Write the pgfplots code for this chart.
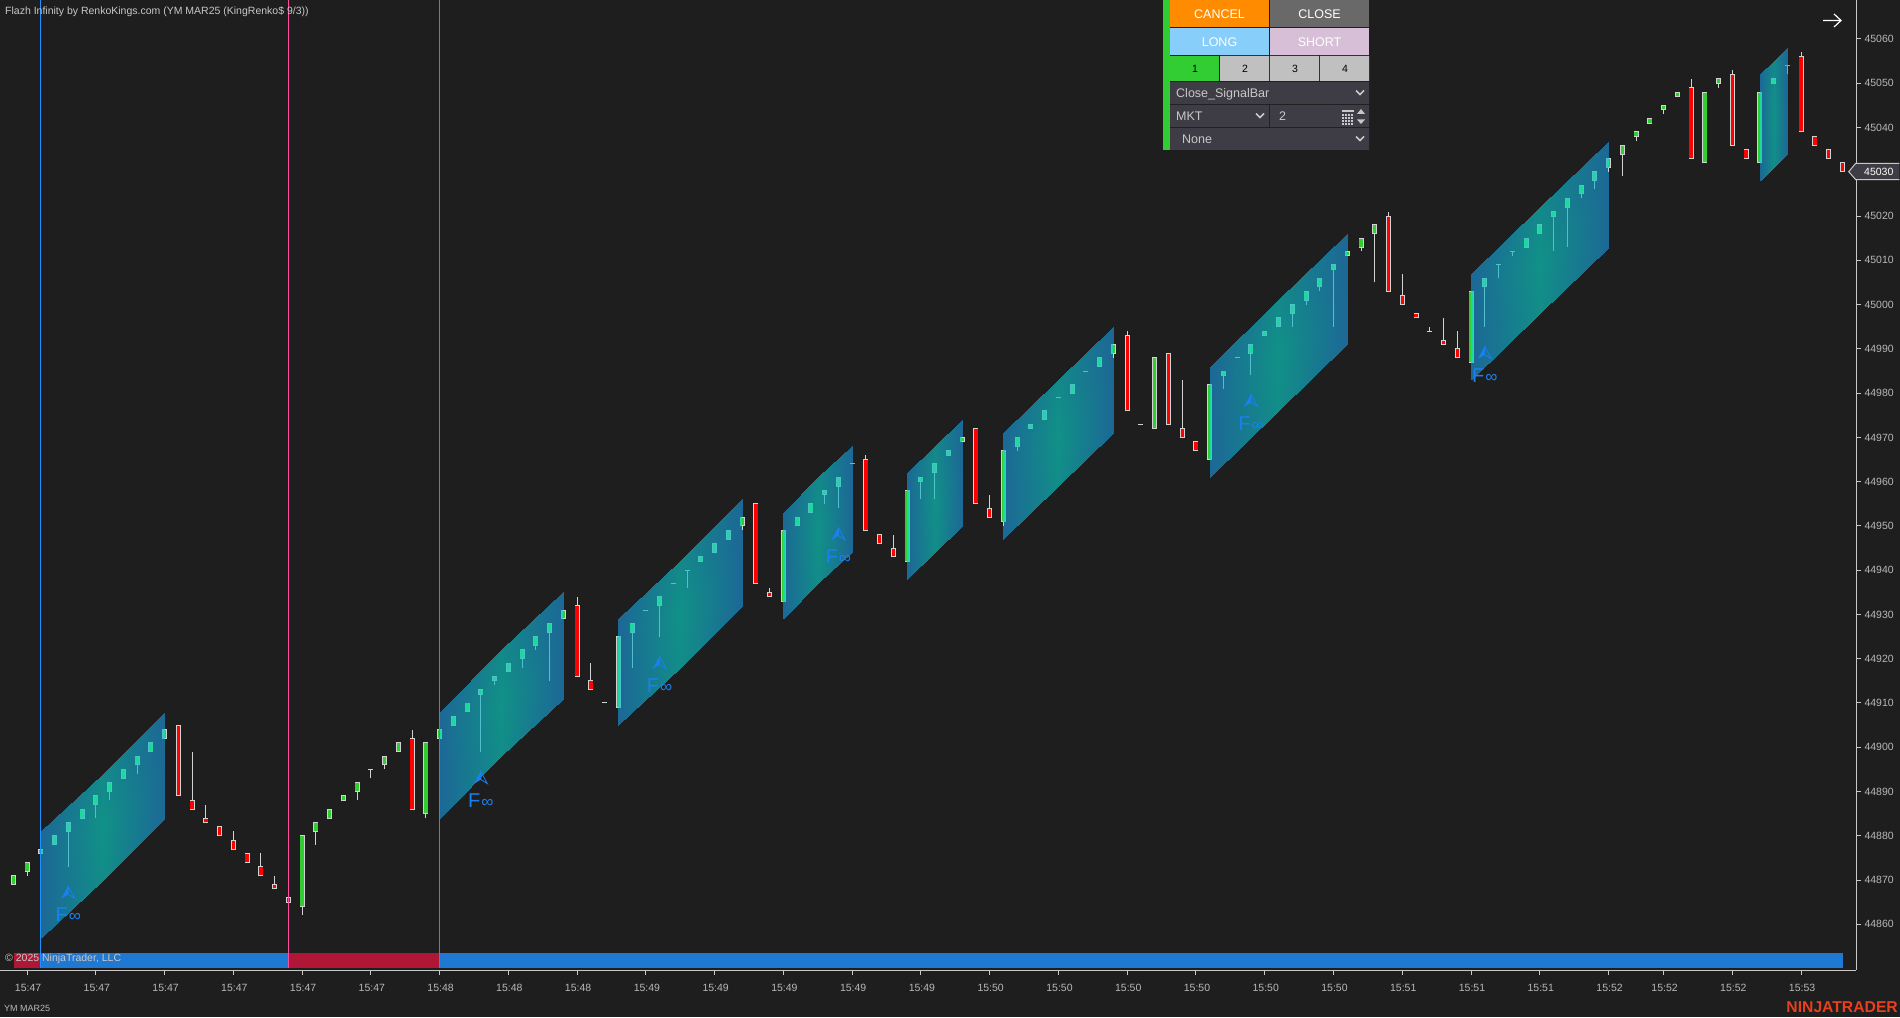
\documentclass[border=0pt]{standalone}
\usepackage{fontspec}
\setmainfont{Liberation Sans}
\usepackage{pgfplots}
\usepackage{pgfplotstable}
\pgfplotsset{compat=1.18}
\definecolor{bg}{HTML}{1E1E1E}
\definecolor{tl}{HTML}{B8B8B8}
\definecolor{ax}{HTML}{C8C8C8}
\definecolor{gr}{HTML}{32CD32}
\definecolor{rd}{HTML}{FF0000}
\definecolor{bd}{HTML}{D2D2D2}
\definecolor{tb}{HTML}{1FD8A0}
\definecolor{tbd}{HTML}{4CC4C8}
\definecolor{twk}{HTML}{52C0CC}
\definecolor{stripb}{HTML}{1F78D2}
\definecolor{stripr}{HTML}{B01636}
\definecolor{vb}{HTML}{1E90FF}
\definecolor{vp}{HTML}{FF4DA0}
\definecolor{fa}{HTML}{1A80F0}
\definecolor{pn}{HTML}{3E3C44}
\definecolor{uit}{HTML}{C8C8C8}

\pgfplotstableread{
i lo hi wl wh
0 44869 44871 44869 44871
1 44872 44874 44871 44874
2 44876 44877 44876 44877
11 44902 44904 44902 44904
21 44864 44880 44862 44880
22 44881 44883 44878 44883
23 44884 44886 44884 44886
24 44888 44889 44888 44889
25 44890 44892 44888 44892
26 44895 44895 44893 44895
27 44896 44898 44895 44898
28 44899 44901 44899 44901
30 44885 44901 44884 44901
31 44902 44904 44902 44904
40 44929 44931 44929 44931
43 44910 44910 44910 44910
44 44909 44925 44909 44925
53 44950 44952 44949 44952
56 44933 44949 44933 44949
65 44942 44958 44942 44958
69 44969 44970 44969 44970
72 44951 44967 44950 44967
80 44989 44991 44988 44991
82 44973 44973 44973 44973
83 44972 44988 44972 44988
87 44965 44982 44965 44982
97 45011 45012 45011 45012
98 45013 45015 45012 45015
99 45016 45018 45005 45018
103 44994 44994 44994 44995
106 44987 45003 44987 45003
116 45031 45033 45030 45033
117 45034 45036 45029 45036
118 45038 45039 45037 45039
119 45041 45042 45041 45042
120 45044 45045 45043 45045
121 45047 45048 45047 45048
123 45032 45048 45032 45048
124 45050 45051 45049 45051
127 45032 45048 45032 45048
}\upplain

\pgfplotstableread{
i lo hi wl wh
12 44889 44905 44889 44905
13 44886 44888 44886 44899
14 44883 44884 44883 44887
15 44880 44882 44880 44882
16 44877 44879 44877 44881
17 44874 44876 44874 44876
18 44871 44873 44871 44876
19 44868 44869 44868 44871
20 44865 44866 44865 44866
29 44886 44902 44886 44904
41 44916 44932 44916 44934
42 44913 44915 44913 44919
54 44937 44955 44937 44955
55 44934 44935 44934 44936
62 44949 44965 44949 44966
63 44946 44948 44946 44948
64 44943 44945 44943 44948
70 44955 44972 44955 44972
71 44952 44954 44952 44957
81 44976 44993 44976 44994
84 44973 44989 44973 44989
85 44970 44972 44970 44983
86 44967 44969 44967 44969
100 45003 45020 45003 45021
101 45000 45002 45000 45007
102 44997 44998 44997 44998
104 44991 44992 44991 44997
105 44988 44990 44988 44994
122 45033 45049 45033 45051
125 45036 45052 45036 45053
126 45033 45035 45033 45035
130 45039 45056 45039 45057
131 45036 45038 45036 45038
132 45033 45035 45033 45035
133 45030 45032 45030 45032
}\downplain

\pgfplotstableread{
i lo hi wl wh
3 44878 44880 44878 44880
4 44881 44883 44873 44883
5 44884 44886 44884 44886
6 44887 44889 44884 44889
7 44890 44892 44888 44892
8 44893 44895 44893 44895
9 44896 44898 44894 44898
10 44899 44901 44899 44901
32 44905 44907 44905 44907
33 44908 44910 44908 44910
34 44912 44913 44899 44913
35 44915 44916 44914 44916
36 44917 44919 44917 44919
37 44920 44922 44918 44922
38 44923 44925 44922 44925
39 44926 44928 44915 44928
45 44926 44928 44918 44928
46 44931 44931 44931 44931
47 44932 44934 44925 44934
48 44937 44937 44937 44937
49 44940 44940 44936 44940
50 44942 44943 44942 44943
51 44944 44946 44944 44946
52 44947 44949 44947 44949
57 44950 44952 44950 44952
58 44953 44955 44953 44955
59 44957 44958 44955 44958
60 44959 44961 44954 44961
61 44964 44964 44964 44964
66 44960 44961 44956 44961
67 44962 44964 44956 44964
68 44966 44967 44966 44967
73 44968 44970 44967 44970
74 44972 44973 44972 44973
75 44974 44976 44974 44976
76 44979 44979 44979 44979
77 44980 44982 44980 44982
78 44985 44985 44985 44985
79 44986 44988 44986 44988
88 44984 44985 44981 44985
89 44988 44988 44988 44988
90 44989 44991 44984 44991
91 44993 44994 44993 44994
92 44995 44997 44995 44997
93 44998 45000 44995 45000
94 45001 45003 45000 45003
95 45004 45006 45003 45006
96 45008 45009 44995 45009
107 45004 45006 44995 45006
108 45009 45009 45006 45009
109 45012 45012 45011 45012
110 45013 45015 45013 45015
111 45016 45018 45016 45018
112 45020 45021 45012 45021
113 45022 45024 45013 45024
114 45025 45027 45024 45027
115 45028 45030 45026 45030
128 45050 45051 45050 45051
129 45054 45054 45052 45054
}\uptint

% bars cut by the left edge of a channel: their right half is tinted
\pgfplotstableread{
i lo hi
2 44876 44877
31 44902 44904
44 44909 44925
56 44933 44949
65 44942 44958
72 44951 44967
87 44965 44982
106 44987 45003
127 45032 45048
}\edgeleft
% bars cut by the right edge of a channel: their left half is tinted
\pgfplotstableread{
i lo hi
11 44902 44904
40 44929 44931
53 44950 44952
69 44969 44970
80 44989 44991
97 45011 45012
116 45031 45033
}\edgeright

\newcommand{\wicks}[2]{%
 \addplot[draw=none,mark=none,forget plot,error bars/.cd,y dir=plus,y explicit,error mark=none,
   error bar style={draw=#2,line width=1pt}]
   table[x=i,y=wl,y error plus expr={\thisrow{wh}-\thisrow{wl}}]{#1};}
% table, colour, width, x offset in bars, half-extension in price
\newcommand{\bodies}[5]{%
 \addplot[draw=none,mark=none,forget plot,error bars/.cd,y dir=plus,y explicit,error mark=none,
   error bar style={draw=#2,line width=#3}]
   table[x expr={\thisrow{i}+#4},y expr={\thisrow{lo}-(#5)},
         y error plus expr={max(\thisrow{hi}-\thisrow{lo}+2*(#5),0)}]{#1};}

% x0 xm x1 low0 lowm low1 height
\newcommand{\para}[7]{%
 \edef\tmp{\noexpand\addplot[forget plot,surf,shader=interp,mesh/cols=3,point meta=explicit] coordinates {
  (#1,#4) [0] (#2,#5) [0.9] (#3,#6) [0]
  (#1,\the\numexpr#4+#7/2\relax) [0] (#2,\the\numexpr#5+#7/2\relax) [1] (#3,\the\numexpr#6+#7/2\relax) [0]
  (#1,\the\numexpr#4+#7\relax) [0] (#2,\the\numexpr#5+#7\relax) [0.8] (#3,\the\numexpr#6+#7\relax) [0]
 };}\tmp}

\pgfdeclareplotmark{navarrow}{%
 \pgfpathmoveto{\pgfqpoint{0pt}{0pt}}
 \pgfpathlineto{\pgfqpoint{-7pt}{-12.7pt}}
 \pgfpathlineto{\pgfqpoint{0pt}{-8.5pt}}
 \pgfpathclose\pgfusepathqfill
 \pgfpathmoveto{\pgfqpoint{0pt}{-0.5pt}}
 \pgfpathlineto{\pgfqpoint{6.5pt}{-12.5pt}}
 \pgfpathlineto{\pgfqpoint{0pt}{-8.5pt}}
 \pgfpathclose\pgfusepathqstroke
}

\begin{document}
\begin{tikzpicture}[x=1pt,y=1pt]
\path[use as bounding box,fill=bg] (0pt,-47pt) rectangle (1900pt,970pt);
\begin{axis}[
  at={(0pt,0pt)},anchor=south west,
  scale only axis,width=1856pt,height=970pt,
  xmin=-0.967,xmax=133.995,ymin=44849.68,ymax=45068.81,
  clip=false,
  axis y line*=right,axis x line*=bottom,
  axis line style={draw=ax,line width=1pt},
  tick style={draw=ax,line width=1pt},
  tick align=outside,major tick length=5pt,
  xtick={1,6,11,16,21,26,31,36,41,46,51,56,61,66,71,76,81,86,91,96,101,106,111,116,120,125,130},
  xticklabels={15:47,15:47,15:47,15:47,15:47,15:47,15:48,15:48,15:48,15:49,15:49,15:49,15:49,15:49,15:50,15:50,15:50,15:50,15:50,15:50,15:51,15:51,15:51,15:52,15:52,15:52,15:53},
  ytick={44860,44870,44880,44890,44900,44910,44920,44930,44940,44950,44960,44970,44980,44990,45000,45010,45020,45040,45050,45060},
  scaled y ticks=false,
  yticklabel style={/pgf/number format/fixed,/pgf/number format/precision=0,/pgf/number format/1000 sep={},/pgf/number format/assume math mode=true},
  tick label style={font=\fontsize{10.5}{12}\selectfont,text=tl},
  xticklabel style={yshift=-6pt,xshift=1pt},
  colormap={chan}{rgb255=(28,104,150) rgb255=(17,145,135)},
  point meta min=0,point meta max=1,
]
% channels
\para{2}{6.5}{11}{44857}{44870}{44884}{24}
\para{31}{35.5}{40}{44884}{44898}{44911}{24}
\para{44}{48.5}{53}{44905}{44918}{44932}{24}
\para{56}{58.5}{61}{44929}{44937}{44944}{24}
\para{65}{67}{69}{44938}{44944}{44950}{24}
\para{72}{76}{80}{44947}{44959}{44971}{24}
\para{87}{92}{97}{44961}{44976}{44991}{25}
\para{106}{111}{116}{44983}{44998}{45013}{24}
\para{127}{128}{129}{45028}{45031}{45034}{24}
% state strip
\addplot[forget plot,fill=stripr,draw=none] coordinates {(0.05,44850.2)(2,44850.2)(2,44853.5)(0.05,44853.5)} -- cycle;
\addplot[forget plot,fill=stripb,draw=none] coordinates {(2,44850.2)(20,44850.2)(20,44853.5)(2,44853.5)} -- cycle;
\addplot[forget plot,fill=stripr,draw=none] coordinates {(20,44850.2)(31,44850.2)(31,44853.5)(20,44853.5)} -- cycle;
\addplot[forget plot,fill=stripb,draw=none] coordinates {(31,44850.2)(133.05,44850.2)(133.05,44853.5)(31,44853.5)} -- cycle;
% candles
\wicks{\upplain}{bd}
\wicks{\downplain}{bd}
\wicks{\uptint}{twk}
\bodies{\upplain}{bd}{5pt}{0}{0.11}
\bodies{\upplain}{gr}{3.4pt}{0}{-0.113}
\bodies{\downplain}{bd}{5pt}{0}{0.11}
\bodies{\downplain}{rd}{3.4pt}{0}{-0.113}
\bodies{\uptint}{tbd}{5pt}{0}{0.11}
\bodies{\uptint}{tb}{3.4pt}{0}{-0.113}
\bodies{\edgeleft}{tbd}{2.5pt}{0.091}{0.11}
\bodies{\edgeleft}{tb}{1.7pt}{0.062}{-0.113}
\bodies{\edgeright}{tbd}{2.5pt}{-0.091}{0.11}
\bodies{\edgeright}{tb}{1.7pt}{-0.062}{-0.113}
% session lines
\addplot[forget plot,vb,line width=1.3pt] coordinates {(2,45068.81)(2,44850.2)};
\addplot[forget plot,vp,line width=1.3pt] coordinates {(20,45068.81)(20,44850.2)};
\addplot[forget plot,vb,line width=1.3pt] coordinates {(31,45068.81)(31,44850.2)};
% signals
\addplot[forget plot,only marks,mark=navarrow,mark options={fill=fa,draw=fa,line width=0.8pt},
  nodes near coords={\fontsize{20}{22}\selectfont F\kern1pt{\fontsize{17}{20}\selectfont ∞}},
  every node near coord/.style={anchor=base,yshift=-36pt,text=fa,inner sep=0pt}]
  coordinates {(4,44868.7)(34,44894.6)(47,44920.6)(60,44949.7)(90,44979.8)(107,44990.6)};
\end{axis}
\begin{scope}[shift={(0pt,970pt)},x=1pt,y=-1pt]
\node[anchor=base west,inner sep=0pt,text=uit,font=\fontsize{10.5}{12}\selectfont] at (5,15) {Flazh Infinity by RenkoKings.com (YM MAR25 (KingRenko\$ 9/3))};
\node[anchor=base west,inner sep=0pt,text=uit,font=\fontsize{10.5}{12}\selectfont] at (5,961) {© 2025 NinjaTrader, LLC};
\node[anchor=base west,inner sep=0pt,text=tl,font=\fontsize{9}{11}\selectfont] at (4,1011) {YM MAR25};
\node[anchor=base east,inner sep=0pt,text={rgb,255:red,232;green,64;blue,28},font=\fontsize{15.7}{17}\selectfont\bfseries] at (1898,1012) {NINJATRADER};
% price marker
\fill[fill=pn] (1848.7,171.7)--(1855.7,163.3)--(1899.3,163.3)--(1899.3,179.7)--(1855.7,179.7)--cycle;
\draw[ax,line width=1pt] (1899.3,163.3)--(1855.7,163.3)--(1848.7,171.7)--(1855.7,179.7)--(1899.3,179.7);
\node[anchor=base west,inner sep=0pt,text=white,font=\fontsize{10.5}{12}\selectfont] at (1864,175.6) {45030};
% arrow
\draw[white,line width=1.2pt] (1823,20.5)--(1841,20.5) (1834,14)--(1841,20.5)--(1834,27);
% panel
\fill[gr] (1163,0) rectangle (1169.5,150);
\fill[fill={rgb,255:red,255;green,140;blue,0}] (1170,0) rectangle (1269,27);
\fill[fill={rgb,255:red,105;green,105;blue,105}] (1270,0) rectangle (1369,27);
\fill[fill={rgb,255:red,135;green,206;blue,250}] (1170,28) rectangle (1269,55);
\fill[fill={rgb,255:red,216;green,191;blue,216}] (1270,28) rectangle (1369,55);
\fill[gr] (1170,56) rectangle (1219,81);
\fill[fill={rgb,255:red,192;green,192;blue,192}] (1220,56) rectangle (1269,81) (1270,56) rectangle (1319,81) (1320,56) rectangle (1369,81);
\fill[pn] (1170,82) rectangle (1369,104) (1170,105) rectangle (1269,127) (1270,105) rectangle (1369,127) (1170,128) rectangle (1369,150);
\tikzset{btn/.style={inner sep=0pt,text=white,font=\fontsize{12.5}{14}\selectfont},
         num/.style={inner sep=0pt,text=black,font=\fontsize{10.5}{12}\selectfont},
         ui/.style={anchor=base west,inner sep=0pt,text=uit,font=\fontsize{12.5}{14}\selectfont},
         chev/.style={draw=uit,line width=1.5pt}}
\node[btn] at (1219.5,14) {CANCEL};
\node[btn] at (1319.5,14) {CLOSE};
\node[btn] at (1219.5,42) {LONG};
\node[btn] at (1319.5,42) {SHORT};
\node[num] at (1195,69) {1};
\node[num] at (1245,69) {2};
\node[num] at (1295,69) {3};
\node[num] at (1345,69) {4};
\node[ui] at (1176,97.5) {Close\_SignalBar};
\node[ui] at (1176,120.5) {MKT};
\node[ui] at (1279,120.5) {2};
\node[ui] at (1182,143.5) {None};
\draw[chev] (1356,90.5)--(1360,94.5)--(1364,90.5);
\draw[chev] (1256,113.5)--(1260,117.5)--(1264,113.5);
\draw[chev] (1356,136.5)--(1360,140.5)--(1364,136.5);
\fill[uit] (1342,110) rectangle (1354,112.5);
\foreach \r in {114,117,120,123}{\foreach \c in {1342,1345,1348,1351}{\fill[uit] (\c,\r) rectangle ++(2.2,2);}}
\fill[uit] (1361,109)--(1365,114)--(1357,114)--cycle;
\fill[uit] (1361,124)--(1365,119.5)--(1357,119.5)--cycle;
\end{scope}
\end{tikzpicture}
\end{document}
